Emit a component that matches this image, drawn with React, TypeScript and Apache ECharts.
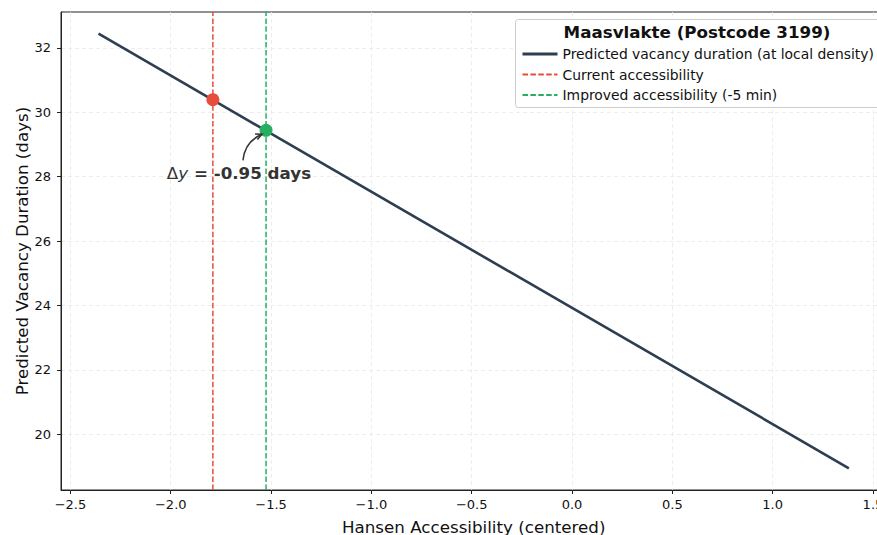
import React, { useEffect, useRef } from "react";
import * as echarts from "echarts";

const xTicks = [-2.5, -2.0, -1.5, -1.0, -0.5, 0.0, 0.5, 1.0, 1.5];
const yTicks = [20, 22, 24, 26, 28, 30, 32];
const predictedLine: [number, number][] = [
  [-2.36, 32.44],
  [1.38, 18.94],
];
const currentPoint: [number, number] = [-1.79, 30.39];
const improvedPoint: [number, number] = [-1.525, 29.44];
const annotationPos: [number, number] = [-1.66, 28.1];
const deltaText = " = -0.95 days";
const legendTitle = "Maasvlakte (Postcode 3199)";
const seriesNames = [
  "Predicted vacancy duration (at local density)",
  "Current accessibility",
  "Improved accessibility (-5 min)",
];
const xRange = [-2.547, 1.567];
const yRange = [18.265, 33.115];

const FONT = "DejaVu Sans";
const fmt = (v: number) => {
  const s = v.toFixed(1);
  return s.startsWith("-") ? "\u2212" + s.slice(1) : s;
};

export default function App() {
  const ref = useRef<HTMLDivElement>(null);
  useEffect(() => {
    document.body.style.margin = "0";
    if (!ref.current) return;
    const chart = echarts.init(ref.current, undefined, { renderer: "svg" });
    const gridLine = { show: true, lineStyle: { color: "#e8e8e8", type: [4, 3], width: 0.8 } };
    chart.setOption({
      animation: false,
      textStyle: { fontFamily: FONT },
      grid: {
        left: 61,
        right: -9.4,
        top: 12,
        bottom: 45,
        outerBoundsMode: "none",
        containLabel: false,
        show: true,
        borderColor: "#222",
        borderWidth: 1,
        backgroundColor: "transparent",
      },
      xAxis: {
        type: "value",
        min: xRange[0],
        max: xRange[1],
        name: "Hansen Accessibility (centered)",
        nameLocation: "middle",
        nameGap: 28,
        nameMoveOverlap: false,
        nameTextStyle: { fontSize: 16.7, color: "#111", fontFamily: FONT },
        axisLine: { show: true, onZero: false, lineStyle: { color: "#222", width: 1 } },
        axisTick: { show: true, customValues: xTicks, length: 4, lineStyle: { color: "#222" } },
        axisLabel: {
          customValues: xTicks,
          formatter: fmt,
          fontSize: 13,
          color: "#111",
          margin: 8,
          fontFamily: FONT,
        },
        splitLine: gridLine,
      },
      yAxis: {
        type: "value",
        min: yRange[0],
        max: yRange[1],
        name: "Predicted Vacancy Duration (days)",
        nameLocation: "middle",
        nameGap: 31,
        nameMoveOverlap: false,
        nameTextStyle: { fontSize: 16.7, color: "#111", fontFamily: FONT },
        axisLine: { show: true, onZero: false, lineStyle: { color: "#222", width: 1 } },
        axisTick: { show: true, customValues: yTicks, length: 4, lineStyle: { color: "#222" } },
        axisLabel: {
          customValues: yTicks,
          formatter: (v: number) => String(v),
          fontSize: 13,
          color: "#111",
          margin: 10,
          fontFamily: FONT,
        },
        splitLine: gridLine,
      },
      legend: {
        orient: "vertical",
        left: 521,
        top: 47,
        padding: 0,
        itemWidth: 35,
        itemHeight: 14,
        itemGap: 6.5,
        data: [
          { name: seriesNames[0], lineStyle: { width: 3 } },
          { name: seriesNames[1] },
          { name: seriesNames[2] },
        ],
        textStyle: { fontSize: 13.9, color: "#111", fontFamily: FONT },
        itemStyle: { color: "transparent", borderWidth: 0, opacity: 0 },
        selectedMode: false,
        z: 30,
      },
      series: [
        {
          name: seriesNames[1],
          type: "line",
          data: [
            [currentPoint[0], yRange[0]],
            [currentPoint[0], yRange[1]],
          ],
          symbol: "none",
          lineStyle: { color: "#e74c3c", width: 1.5, type: [5.5, 2.4] },
          itemStyle: { color: "#e74c3c" },
          z: 2,
        },
        {
          name: seriesNames[2],
          type: "line",
          data: [
            [improvedPoint[0], yRange[0]],
            [improvedPoint[0], yRange[1]],
          ],
          symbol: "none",
          lineStyle: { color: "#27ae60", width: 1.5, type: [5.5, 2.4] },
          itemStyle: { color: "#27ae60" },
          z: 2,
        },
        {
          name: seriesNames[0],
          type: "line",
          data: predictedLine,
          symbol: "none",
          lineStyle: { color: "#2c3e50", width: 2.6 },
          itemStyle: { color: "#2c3e50" },
          z: 3,
        },
        {
          name: "current",
          type: "scatter",
          data: [currentPoint],
          symbolSize: 13,
          itemStyle: { color: "#e74c3c", opacity: 1 },
          z: 5,
        },
        {
          name: "improved",
          type: "scatter",
          data: [improvedPoint],
          symbolSize: 13,
          itemStyle: { color: "#27ae60", opacity: 1 },
          z: 5,
        },
      ],
    });

    const tp = chart.convertToPixel({ gridIndex: 0 }, annotationPos) as number[];
    const ip = chart.convertToPixel({ gridIndex: 0 }, improvedPoint) as number[];
    const S = [tp[0] + 4, tp[1] - 13];
    const E = [ip[0] - 4, ip[1] + 4];
    const mid = [(S[0] + E[0]) / 2, (S[1] + E[1]) / 2];
    const d = [E[0] - S[0], E[1] - S[1]];
    const rad = 0.3;
    const C = [mid[0] + rad * d[1], mid[1] - rad * d[0]];
    const dir = [E[0] - C[0], E[1] - C[1]];
    const len = Math.hypot(dir[0], dir[1]);
    const u = [dir[0] / len, dir[1] / len];
    const ah = 7;
    const ang = 0.45;
    const rot = (a: number) => [
      E[0] - ah * (u[0] * Math.cos(a) - u[1] * Math.sin(a)),
      E[1] - ah * (u[0] * Math.sin(a) + u[1] * Math.cos(a)),
    ];

    chart.setOption({
      graphic: [
        {
          type: "rect",
          shape: { x: 515.5, y: 19.5, width: 370, height: 88, r: 3 },
          style: { fill: "rgba(255,255,255,0.85)", stroke: "#cccccc", lineWidth: 1 },
          z: 10,
        },
        {
          type: "text",
          x: 697,
          y: 32,
          style: {
            text: legendTitle,
            fontFamily: FONT,
            fontSize: 16.7,
            fontWeight: "bold",
            fill: "#111",
            align: "center",
            verticalAlign: "middle",
          },
          z: 11,
        },
        {
          type: "bezierCurve",
          shape: { x1: S[0], y1: S[1], x2: E[0], y2: E[1], cpx1: C[0], cpy1: C[1] },
          style: { stroke: "#333", lineWidth: 1.5, fill: "none" },
          z: 20,
        },
        {
          type: "polyline",
          shape: { points: [rot(ang), E, rot(-ang)] },
          style: { stroke: "#333", lineWidth: 1.5, fill: "none" },
          z: 20,
        },
        {
          type: "text",
          x: tp[0],
          y: tp[1],
          style: {
            text: "{a|\u0394}{b|y}{c|" + deltaText + "}",
            align: "center",
            verticalAlign: "middle",
            rich: {
              a: { fontFamily: FONT, fontSize: 16.7, fill: "#333", color: "#333" },
              b: { fontFamily: FONT, fontSize: 16.7, fontStyle: "italic", fill: "#333", color: "#333" },
              c: { fontFamily: FONT, fontSize: 16.7, fontWeight: "bold", fill: "#333", color: "#333" },
            },
          },
          z: 20,
        },
      ],
    });

    return () => chart.dispose();
  }, []);
  return <div ref={ref} style={{ width: 877, height: 535 }} />;
}
